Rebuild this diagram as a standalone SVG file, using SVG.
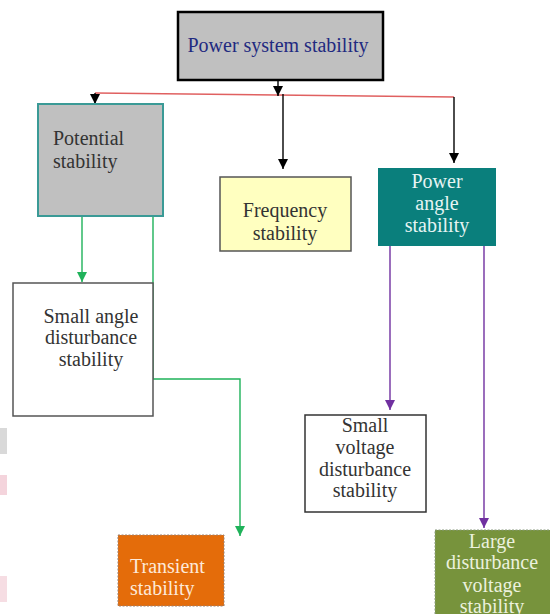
<svg xmlns="http://www.w3.org/2000/svg" width="550" height="614" viewBox="0 0 550 614">
  <style>
    text { font-family: "Liberation Serif", "Times New Roman", serif; font-size: 20px; }
    .dark { fill: #333333; }
    .mid { text-anchor: middle; }
    .wire { fill: none; stroke-width: 1.4; }
  </style>
  <defs>
    <marker id="ahBlack" viewBox="0 0 10 10" refX="10" refY="5" markerWidth="10" markerHeight="10" markerUnits="userSpaceOnUse" orient="auto">
      <path d="M0,0 L10,5 L0,10 z" fill="#000000"/>
    </marker>
    <marker id="ahGreen" viewBox="0 0 10 10" refX="10" refY="5" markerWidth="10" markerHeight="10" markerUnits="userSpaceOnUse" orient="auto">
      <path d="M0,0 L10,5 L0,10 z" fill="#1fb25a"/>
    </marker>
    <marker id="ahPurple" viewBox="0 0 10 10" refX="10" refY="5" markerWidth="10" markerHeight="10" markerUnits="userSpaceOnUse" orient="auto">
      <path d="M0,0 L10,5 L0,10 z" fill="#7030a0"/>
    </marker>
  </defs>

  <rect width="550" height="614" fill="#ffffff"/>

  <!-- faint marks along the left edge -->
  <rect x="0" y="428" width="7" height="26" fill="#d9d9d9"/>
  <rect x="0" y="475" width="7" height="20" fill="#f4d4dc"/>
  <rect x="0" y="576" width="7" height="26" fill="#f6dde3"/>

  <g id="connectors">
    <!-- distribution bar under the root -->
    <path class="wire" d="M95,93 L454,97" stroke="#e06060"/>
    <path class="wire" d="M278,80 L278,96" stroke="#000000" marker-end="url(#ahBlack)"/>
    <path class="wire" d="M95,93 L95,104" stroke="#000000" marker-end="url(#ahBlack)"/>
    <path class="wire" d="M283,94 L283,169" stroke="#000000" marker-end="url(#ahBlack)"/>
    <path class="wire" d="M454,97 L454,163" stroke="#000000" marker-end="url(#ahBlack)"/>
    <!-- potential stability branches -->
    <path class="wire" d="M82,216 L82,282" stroke="#1fb25a" marker-end="url(#ahGreen)"/>
    <path class="wire" d="M153,216 L153,379 L240,379 L240,536" stroke="#1fb25a" marker-end="url(#ahGreen)"/>
    <!-- power angle stability branches -->
    <path class="wire" d="M390,246 L390,410" stroke="#7030a0" marker-end="url(#ahPurple)"/>
    <path class="wire" d="M484,246 L484,528" stroke="#7030a0" marker-end="url(#ahPurple)"/>
  </g>

  <g id="node-root">
    <rect x="178" y="12" width="205" height="68" fill="#c0c0c0" stroke="#000000" stroke-width="2.5"/>
    <text x="278" y="52" class="mid" fill="#1f2a80" font-size="19.5">Power system stability</text>
  </g>

  <g id="node-potential">
    <rect x="38" y="104" width="125" height="112" fill="#c0c0c0" stroke="#3a9a96" stroke-width="2"/>
    <text x="53" y="145" class="dark">Potential</text>
    <text x="53" y="168" class="dark">stability</text>
  </g>

  <g id="node-frequency">
    <rect x="220" y="177" width="131" height="74" fill="#ffffc0" stroke="#555555" stroke-width="1.5"/>
    <text x="285" y="217" class="mid dark">Frequency</text>
    <text x="285" y="240" class="mid dark">stability</text>
  </g>

  <g id="node-power-angle">
    <rect x="378" y="168" width="118" height="78" fill="#0a7f7c"/>
    <text x="437" y="188" class="mid" fill="#e6f4f3">Power</text>
    <text x="437" y="210" class="mid" fill="#e6f4f3">angle</text>
    <text x="437" y="232" class="mid" fill="#e6f4f3">stability</text>
  </g>

  <g id="node-small-angle">
    <rect x="13" y="283" width="140" height="133" fill="#ffffff" stroke="#555555" stroke-width="1.5"/>
    <text x="91" y="323" class="mid dark">Small angle</text>
    <text x="91" y="344" class="mid dark">disturbance</text>
    <text x="91" y="366" class="mid dark">stability</text>
  </g>

  <g id="node-small-voltage">
    <rect x="305" y="415" width="121" height="97" fill="#ffffff" stroke="#333333" stroke-width="1.5"/>
    <text x="365" y="432" class="mid dark">Small</text>
    <text x="365" y="454" class="mid dark">voltage</text>
    <text x="365" y="476" class="mid dark">disturbance</text>
    <text x="365" y="497" class="mid dark">stability</text>
  </g>

  <g id="node-transient">
    <rect x="118" y="535" width="106" height="71" fill="#e46c0a" stroke="#9a8070" stroke-width="1" stroke-dasharray="2 1.5"/>
    <text x="130" y="573" fill="#fde9d9">Transient</text>
    <text x="130" y="595" fill="#fde9d9">stability</text>
  </g>

  <g id="node-large-voltage">
    <rect x="435" y="530" width="120" height="90" fill="#77933c" stroke="#8a9a80" stroke-width="1" stroke-dasharray="2 1.5"/>
    <text x="492" y="548" class="mid" fill="#ebf1de">Large</text>
    <text x="492" y="569" class="mid" fill="#ebf1de">disturbance</text>
    <text x="492" y="592" class="mid" fill="#ebf1de">voltage</text>
    <text x="492" y="613" class="mid" fill="#ebf1de">stability</text>
  </g>
</svg>
